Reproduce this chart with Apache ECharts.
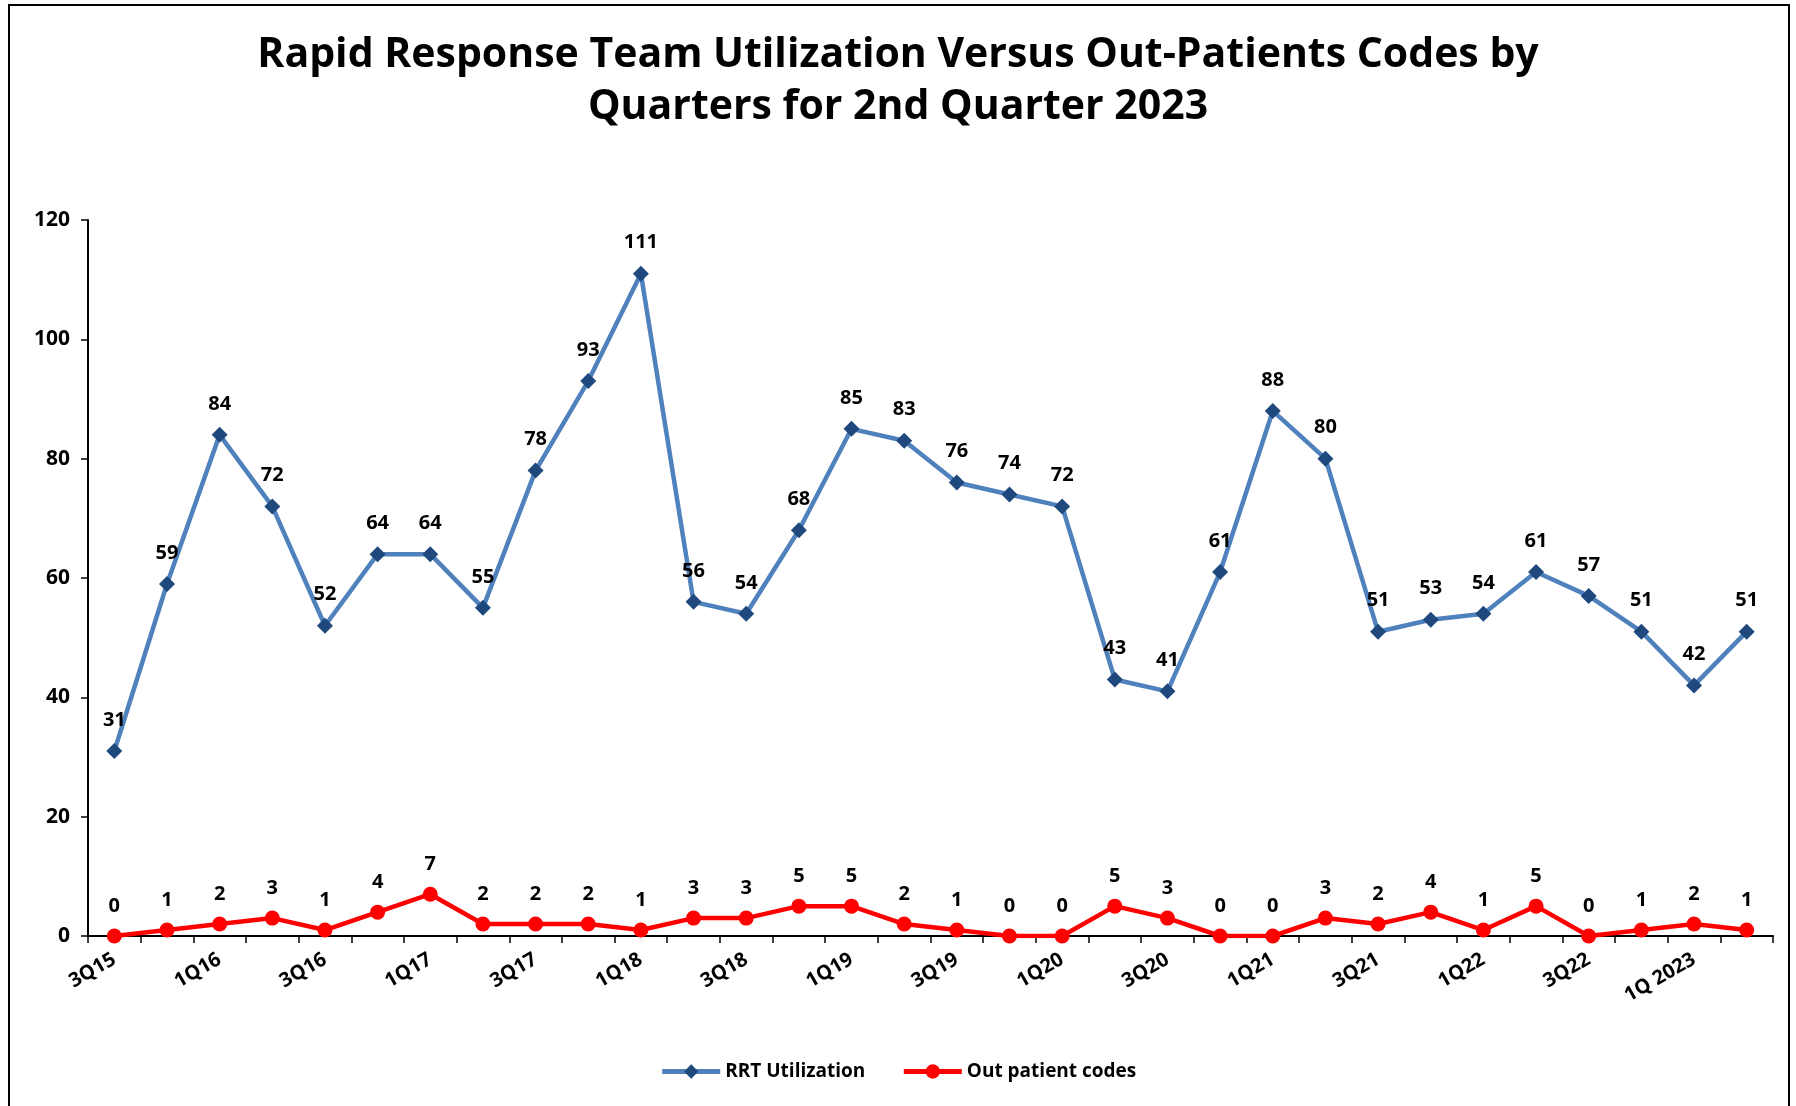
<!DOCTYPE html>
<html>
<head>
<meta charset="utf-8">
<script src="https://cdn.jsdelivr.net/npm/echarts@6/dist/echarts.min.js"></script>
<style>
  html, body { margin: 0; padding: 0; background: #fff; }
  #chart { width: 1796px; height: 1106px; }
</style>
</head>
<body>
<div id="chart"></div>
<script>
const quarters = [
  '3Q15', '4Q15', '1Q16', '2Q16', '3Q16', '4Q16', '1Q17', '2Q17',
  '3Q17', '4Q17', '1Q18', '2Q18', '3Q18', '4Q18', '1Q19', '2Q19',
  '3Q19', '4Q19', '1Q20', '2Q20', '3Q20', '4Q20', '1Q21', '2Q21',
  '3Q21', '4Q21', '1Q22', '2Q22', '3Q22', '4Q22', '1Q 2023', '2Q 2023'
];
const rrtUtilization = [
  31, 59, 84, 72, 52, 64, 64, 55, 78, 93, 111, 56, 54, 68, 85, 83,
  76, 74, 72, 43, 41, 61, 88, 80, 51, 53, 54, 61, 57, 51, 42, 51
];
const outPatientCodes = [
  0, 1, 2, 3, 1, 4, 7, 2, 2, 2, 1, 3, 3, 5, 5, 2,
  1, 0, 0, 5, 3, 0, 0, 3, 2, 4, 1, 5, 0, 1, 2, 1
];

const font = 'Open Sans';
const chart = echarts.init(document.getElementById('chart'));

chart.setOption({
  animation: false,
  backgroundColor: '#fff',
  textStyle: { fontFamily: font },
  title: {
    text: 'Rapid Response Team Utilization Versus Out-Patients Codes by\nQuarters for 2nd Quarter 2023',
    left: 'center',
    top: 24,
    textStyle: {
      fontFamily: font,
      fontWeight: 'bold',
      fontSize: 41,
      lineHeight: 52,
      color: '#000'
    }
  },
  graphic: [{
    type: 'rect',
    shape: { x: 9, y: 5, width: 1780, height: 1130 },
    style: { fill: 'none', stroke: '#000', lineWidth: 2 },
    silent: true
  }],
  legend: {
    bottom: 20,
    left: 'center',
    itemWidth: 58,
    itemHeight: 18,
    itemGap: 36,
    lineStyle: { width: 5 },
    textStyle: { fontFamily: font, fontWeight: 'bold', fontSize: 19, color: '#000' },
    data: ['RRT Utilization', 'Out patient codes']
  },
  grid: { left: 88, right: 23, top: 220, bottom: 170, containLabel: false },
  xAxis: {
    type: 'category',
    data: quarters,
    boundaryGap: true,
    axisLine: { lineStyle: { color: '#000', width: 2 } },
    axisTick: { show: true, interval: 0, length: 7, lineStyle: { color: '#000', width: 1.5 } },
    axisLabel: {
      interval: 1,
      rotate: 30,
      margin: 22,
      fontFamily: font,
      fontWeight: 'bold',
      fontSize: 20,
      color: '#000'
    },
    splitLine: { show: false }
  },
  yAxis: {
    type: 'value',
    min: 0,
    max: 120,
    interval: 20,
    axisLine: { show: true, lineStyle: { color: '#000', width: 2 } },
    axisTick: { show: true, length: 7, lineStyle: { color: '#000', width: 1.5 } },
    axisLabel: { fontFamily: font, fontWeight: 'bold', fontSize: 21, color: '#000', margin: 18 },
    splitLine: { show: false }
  },
  series: [
    {
      name: 'RRT Utilization',
      type: 'line',
      data: rrtUtilization,
      symbol: 'diamond',
      symbolSize: 16,
      lineStyle: { color: '#4F81BD', width: 4.5 },
      itemStyle: { color: '#1F497D' },
      label: {
        show: true,
        position: 'top',
        distance: 13,
        fontFamily: font,
        fontWeight: 'bold',
        fontSize: 20,
        color: '#000'
      },
      z: 3
    },
    {
      name: 'Out patient codes',
      type: 'line',
      data: outPatientCodes,
      symbol: 'circle',
      symbolSize: 15,
      lineStyle: { color: '#FF0000', width: 4.5 },
      itemStyle: { color: '#FF0000' },
      label: {
        show: true,
        position: 'top',
        distance: 12,
        fontFamily: font,
        fontWeight: 'bold',
        fontSize: 20,
        color: '#000'
      },
      z: 4
    }
  ]
});
</script>
</body>
</html>
